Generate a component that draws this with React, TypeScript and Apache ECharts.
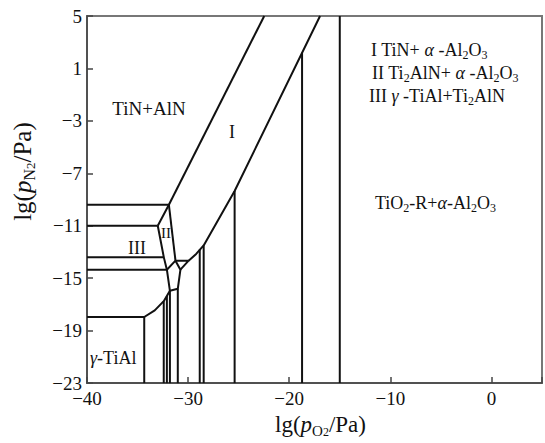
import React, { useEffect, useRef } from "react";
import * as echarts from "echarts";

type P = [number, number];

// axis ranges / ticks
const X_MIN = -40;
const X_MAX = 5;
const X_STEP = 10;
const Y_MIN = -23;
const Y_MAX = 5;
const Y_STEP = 4;

// phase boundaries (lg pO2, lg pN2)
const boundaryA: P[] = [[-22.47, 5], [-31.9, -9.4]];
const boundaryB: P[] = [[-16.95, 5], [-25.4, -8.35], [-28.46, -12.5], [-29.2, -13.15], [-29.95, -13.66]];
const edgeV1V2: P[] = [[-31.9, -9.4], [-33.0, -11.0]];
const edgeV2V4: P[] = [[-33.0, -11.0], [-32.4, -13.41], [-32.1, -14.35]];
const edgeV1V5: P[] = [[-31.9, -9.4], [-31.25, -13.66]];
const pentagon: P[] = [[-32.1, -14.35], [-31.25, -13.66], [-30.76, -14.35], [-31.02, -15.81], [-31.8, -15.96], [-32.1, -14.35]];
const triangle: P[] = [[-31.25, -13.66], [-29.95, -13.66], [-30.76, -14.35]];
const lowerCurve: P[] = [[-31.8, -15.96], [-32.41, -16.75], [-33.3, -17.45], [-34.34, -17.96]];
// horizontal boundaries from the left axis: [y, xEnd]
const horizontals: P[] = [[-9.4, -31.9], [-11.0, -33.0], [-13.41, -32.4], [-14.35, -32.1], [-17.96, -34.34]];
// vertical boundaries down to the bottom axis: [x, yTop]
const verticals: P[] = [
  [-34.34, -17.96], [-32.41, -16.75], [-32.1, -16.35], [-31.8, -15.96], [-31.02, -15.81],
  [-28.85, -12.81], [-28.46, -12.5], [-25.4, -8.35], [-18.73, 2.19], [-15.0, 5],
];

const FONT = "'Liberation Serif', 'Times New Roman', serif";
const INK = "#111";

const rich = (size: number) => ({
  n: { fontFamily: FONT, fontSize: size, lineHeight: size + 4, color: INK },
  i: { fontFamily: FONT, fontSize: size, lineHeight: size + 4, color: INK, fontStyle: "italic" },
  s: { fontFamily: FONT, fontSize: Math.round(size * 0.65), lineHeight: Math.round(size * 0.55), verticalAlign: "bottom", color: INK },
  ss: { fontFamily: FONT, fontSize: Math.round(size * 0.5), lineHeight: Math.round(size * 0.2), verticalAlign: "bottom", color: INK },
});

function label(text: string, x: number, y: number, size: number, align = "center", rotation = 0) {
  return {
    type: "text",
    x,
    y,
    rotation,
    style: {
      text,
      rich: rich(size),
      fontFamily: FONT,
      fontSize: size,
      fill: INK,
      align,
      verticalAlign: "middle",
    },
    z: 10,
  };
}

export default function App() {
  const ref = useRef<HTMLDivElement>(null);
  useEffect(() => {
    if (!ref.current) return;
    const chart = echarts.init(ref.current, null, { renderer: "svg" });
    const lineStyle = { color: INK, width: 2 };
    const mk = (data: P[]) => ({
      type: "line",
      data,
      showSymbol: false,
      symbol: "none",
      lineStyle,
      silent: true,
      z: 3,
    });
    const series: any[] = [];
    [boundaryA, boundaryB, edgeV1V2, edgeV2V4, edgeV1V5, pentagon, triangle, lowerCurve].forEach((d) => series.push(mk(d)));
    horizontals.forEach(([y, xe]) => series.push(mk([[X_MIN, y], [xe, y]])));
    verticals.forEach(([x, yt]) => series.push(mk([[x, Y_MIN], [x, yt]])));

    const fmt = (v: number) => String(v).replace("-", "\u2212");
    const axisLine = { onZero: false, lineStyle: { color: "#444", width: 1.5 } };

    chart.setOption({
      animation: false,
      backgroundColor: "#fff",
      grid: { left: 87, right: -3, top: 16, bottom: 58, show: true, borderColor: "#777", borderWidth: 2 },
      xAxis: {
        type: "value",
        min: X_MIN,
        max: X_MAX,
        interval: X_STEP,
        axisLine,
        axisTick: { inside: true, length: 6, lineStyle: { color: "#444", width: 1.5 } },
        splitLine: { show: false },
        axisLabel: {
          fontFamily: FONT,
          fontSize: 19,
          color: INK,
          margin: 6,
          formatter: (v: number) => (v > 0 ? "" : fmt(v)),
        },
        name: "{n|lg(}{i|p}{s|O}{ss|2}{n|/Pa)}",
        nameLocation: "middle",
        nameGap: 19,
        nameTextStyle: { rich: rich(23), padding: [0, 0, 0, 12] },
      },
      yAxis: {
        type: "value",
        min: Y_MIN,
        max: Y_MAX,
        interval: Y_STEP,
        axisLine,
        axisTick: { inside: true, length: 6, lineStyle: { color: "#444", width: 1.5 } },
        splitLine: { show: false },
        axisLabel: { fontFamily: FONT, fontSize: 19, color: INK, margin: 5, formatter: fmt },
        name: "{n|lg(}{i|p}{s|N}{ss|2}{n|/Pa)}",
        nameLocation: "middle",
        nameGap: 50,
        nameTextStyle: { rich: rich(25), padding: [0, 0, 0, 56] },
      },
      series,
      graphic: [
        label("{n|TiN+AlN}", 149, 108, 19),
        label("{n|I}", 232, 132, 18),
        label("{n|II}", 166, 233, 15),
        label("{n|III}", 137, 248, 18),
        label("{i|γ}{n|-TiAl}", 90, 358, 18, "left"),
        label("{n|I TiN+ }{i|α}{n| -Al}{s|2}{n|O}{s|3}", 371, 50, 18, "left"),
        label("{n|II Ti}{s|2}{n|AlN+ }{i|α}{n| -Al}{s|2}{n|O}{s|3}", 372, 73, 18, "left"),
        label("{n|III }{i|γ}{n| -TiAl+Ti}{s|2}{n|AlN}", 369, 96, 18, "left"),
        label("{n|TiO}{s|2}{n|-R+}{i|α}{n|-Al}{s|2}{n|O}{s|3}", 375, 203, 18, "left"),
      ],
    });
    return () => chart.dispose();
  }, []);
  return (
    <div
      ref={ref}
      style={{ position: "fixed", left: 0, top: 0, width: 545, height: 443, background: "#fff" }}
    />
  );
}
